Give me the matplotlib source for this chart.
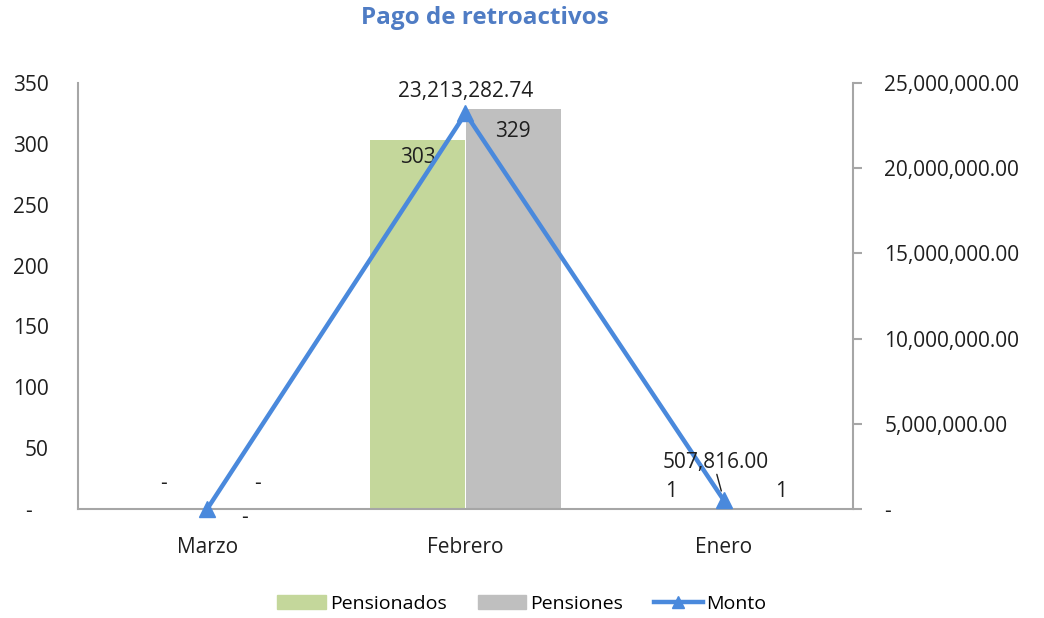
import numpy as np
import matplotlib.pyplot as plt
from matplotlib.patches import Patch
from matplotlib.lines import Line2D

plt.rcParams['font.family'] = ['Open Sans', 'DejaVu Sans']

# data
meses = ['Marzo', 'Febrero', 'Enero']
pensionados = [0, 303, 1]
pensiones = [0, 329, 1]
monto = [0, 23213282.74, 507816.00]

lbl_pensionados = ['-', '303', '1']
lbl_pensiones = ['-', '329', '1']
lbl_monto = ['-', '23,213,282.74', '507,816.00']

yticks_left = [0, 50, 100, 150, 200, 250, 300, 350]
yticks_right = [0, 5e6, 10e6, 15e6, 20e6, 25e6]

c_green = '#C4D79B'
c_gray = '#BFBFBF'
c_blue = '#4A89DC'
c_spine = '#A6A6A6'
c_text = '#1F1F1F'
fs = 15

fig = plt.figure(figsize=(10.44, 6.18), dpi=100)
ax = fig.add_axes([78/1044, 1-509/618, (853-78)/1044, (509-83)/618])
ax2 = ax.twinx()

x = np.arange(len(meses))
w = 0.37
b1 = ax.bar(x - w/2, pensionados, w, color=c_green, zorder=2)
b2 = ax.bar(x + w/2, pensiones, w, color=c_gray, zorder=2)
ax2.plot(x, monto, color=c_blue, lw=3.2, marker='^', ms=11, zorder=3,
         clip_on=False)

ax.set_xlim(-0.5, 2.5)
ax.set_ylim(0, 350)
ax2.set_ylim(0, 25e6)

ax.set_yticks(yticks_left)
ax.set_yticklabels(['-   '] + [str(v) for v in yticks_left[1:]])
ax2.set_yticks(yticks_right)
ax2.set_yticklabels(['-'] + ['{:,.2f}'.format(v) for v in yticks_right[1:]])
ax.set_xticks(x)
ax.set_xticklabels(meses)

ax.tick_params(axis='y', length=0, pad=21, labelsize=fs, colors=c_text)
ax.tick_params(axis='x', length=0, pad=20, labelsize=fs, colors=c_text)
ax2.tick_params(axis='y', length=6.5, width=1.5, color=c_spine, pad=16,
                labelsize=fs, labelcolor=c_text)

for a in [ax, ax2]:
    a.spines['top'].set_visible(False)
    for s in ['left', 'right', 'bottom']:
        a.spines[s].set_color(c_spine)
        a.spines[s].set_linewidth(1.5)
ax.spines['right'].set_visible(False)
ax2.spines['left'].set_visible(False)
ax2.spines['bottom'].set_visible(False)

# bar labels (offsets in pixels from bar top)
off1 = [(4, 26), (0, -17), (-5, 16)]
off2 = [(3, 26), (0, -23), (9, 16)]
for i in range(len(meses)):
    ax.annotate(lbl_pensionados[i], (x[i] - w/2, pensionados[i]),
                xytext=off1[i], textcoords='offset pixels',
                ha='center', va='center', fontsize=fs, color=c_text, zorder=5)
    ax.annotate(lbl_pensiones[i], (x[i] + w/2, pensiones[i]),
                xytext=off2[i], textcoords='offset pixels',
                ha='center', va='center', fontsize=fs, color=c_text, zorder=5)

# monto labels
off3 = [(37, -8), (0, 22), (-8, 38)]
for i in range(len(meses)):
    ax2.annotate(lbl_monto[i], (x[i], monto[i]),
                 xytext=off3[i], textcoords='offset pixels',
                 ha='center', va='center', fontsize=fs, color=c_text, zorder=5)
# leader line for Enero
ax2.annotate('', (x[2], monto[2]), xytext=(-7, 26), textcoords='offset pixels',
             arrowprops=dict(arrowstyle='-', color=c_text, lw=1,
                             shrinkA=0, shrinkB=7))

fig.text(485/1044, 1-18/618, 'Pago de retroactivos', ha='center', va='center',
         fontsize=17.5, fontweight='bold', color='#4F7CC4')

handles = [Patch(color=c_green), Patch(color=c_gray),
           Line2D([], [], color=c_blue, lw=3.2, marker='^', ms=9)]
fig.legend(handles, ['Pensionados', 'Pensiones', 'Monto'], loc='center',
           bbox_to_anchor=(522/1044, 1-604/618), ncol=3, frameon=False,
           fontsize=14, handlelength=2.5, handleheight=0.75,
           handletextpad=0.2, columnspacing=1.6)

fig.savefig('out.png', dpi=100)
